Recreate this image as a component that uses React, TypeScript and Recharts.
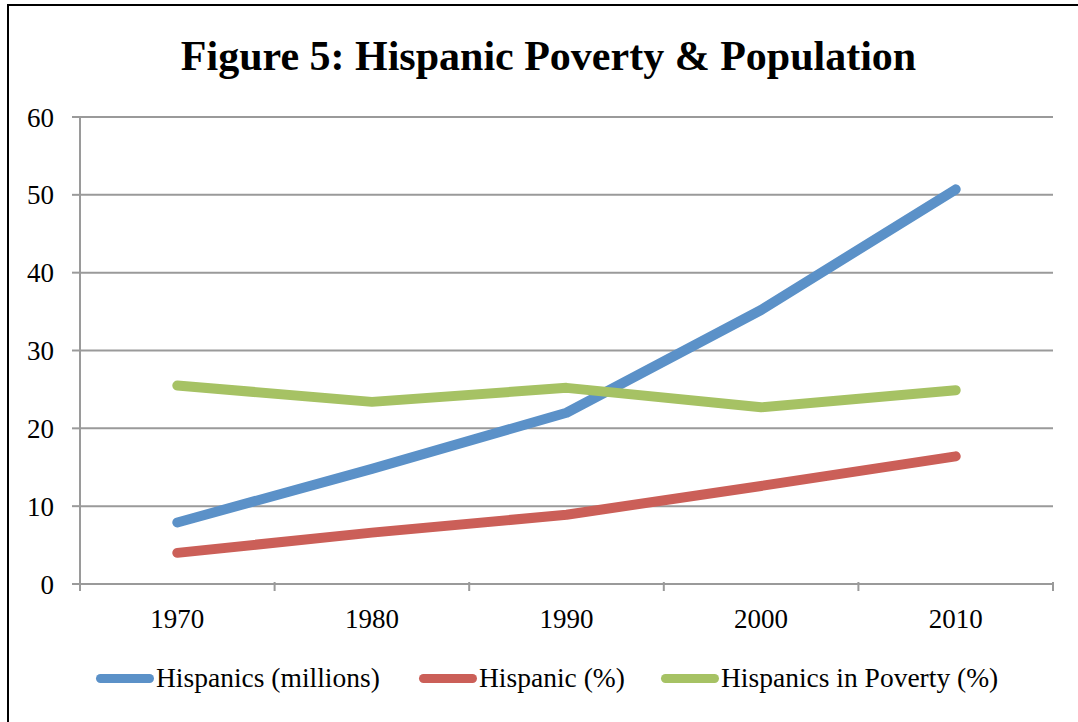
import React from "react";
import { LineChart, Line, XAxis, YAxis, CartesianGrid, Legend } from "recharts";

const years = ["1970", "1980", "1990", "2000", "2010"];
const hispanicsMillions = [7.9, 14.8, 22.0, 35.2, 50.7];
const hispanicPct = [4.0, 6.6, 8.9, 12.6, 16.4];
const povertyPct = [25.5, 23.4, 25.2, 22.7, 24.9];
const yTicks = [0, 10, 20, 30, 40, 50, 60];

const series = [
  { key: "millions", name: "Hispanics (millions)", color: "#5b91c8" },
  { key: "pct", name: "Hispanic (%)", color: "#cb5f58" },
  { key: "poverty", name: "Hispanics in Poverty (%)", color: "#a6c264" },
];

const data = years.map((year, i) => ({
  year,
  millions: hispanicsMillions[i],
  pct: hispanicPct[i],
  poverty: povertyPct[i],
}));

const FONT = "'Liberation Serif', 'Times New Roman', serif";
const GRID = "#9a9a9a";

// category ticks sit between the bands, like the spreadsheet chart
function YearTick(props: any) {
  const { x, y, payload, index, width, visibleTicksCount } = props;
  const band = width / visibleTicksCount;
  const top = y - 10;
  const left = x - band / 2;
  return (
    <g>
      <line x1={left} x2={left} y1={top} y2={top + 9} stroke={GRID} strokeWidth={2} />
      {index === visibleTicksCount - 1 && (
        <line x1={left + band} x2={left + band} y1={top} y2={top + 9} stroke={GRID} strokeWidth={2} />
      )}
      <text x={x} y={top + 46} textAnchor="middle" fontFamily={FONT} fontSize={27} fill="#000">
        {payload.value}
      </text>
    </g>
  );
}

function LegendBox() {
  const spots = [96, 419, 661];
  return (
    <div style={{ position: "relative", width: 1078, height: 40, fontFamily: FONT, fontSize: 27.5 }}>
      {series.map((s, i) => (
        <div key={s.key} style={{ position: "absolute", left: spots[i], top: 0, display: "flex", alignItems: "center" }}>
          <span style={{ display: "inline-block", width: 58, height: 9, borderRadius: 5, background: s.color }} />
          <span style={{ marginLeft: 2, color: "#000" }}>{s.name}</span>
        </div>
      ))}
    </div>
  );
}

export default function App() {
  return (
    <div style={{ position: "absolute", left: 0, top: 0, width: 1078, height: 722, overflow: "hidden", background: "#fff" }}>
      <div style={{ position: "absolute", left: 7, top: 4, width: 1200, height: 900, borderLeft: "2px solid #000", borderTop: "2px solid #000" }} />
      <div
        style={{
          position: "absolute",
          left: 0,
          top: 32,
          width: 1097,
          textAlign: "center",
          fontFamily: FONT,
          fontWeight: "bold",
          fontSize: 42,
          color: "#000",
        }}
      >
        Figure 5: Hispanic Poverty &amp; Population
      </div>
      <div style={{ position: "absolute", left: 0, top: 0 }}>
        <LineChart width={1078} height={722} data={data} margin={{ top: 117, right: 25, bottom: 38, left: 0 }}>
          <CartesianGrid vertical={false} stroke={GRID} strokeWidth={2} strokeDasharray="" />
          <XAxis
            dataKey="year"
            scale="band"
            height={60}
            axisLine={{ stroke: GRID, strokeWidth: 2 }}
            tickLine={false}
            tick={<YearTick />}
            interval={0}
          />
          <YAxis
            domain={[0, 60]}
            ticks={yTicks}
            width={80}
            axisLine={{ stroke: GRID, strokeWidth: 2 }}
            tickLine={{ stroke: GRID, strokeWidth: 2 }}
            tickSize={8}
            tick={{ fontFamily: FONT, fontSize: 27, fill: "#000", dx: -16 }}
          />
          <Legend content={<LegendBox />} wrapperStyle={{ position: "absolute", left: 0, top: 662, width: 1078 }} />
          {series.map((s) => (
            <Line
              key={s.key}
              dataKey={s.key}
              name={s.name}
              stroke={s.color}
              strokeWidth={10}
              strokeLinecap="round"
              strokeLinejoin="round"
              dot={false}
              activeDot={false}
              type="linear"
              isAnimationActive={false}
            />
          ))}
        </LineChart>
      </div>
    </div>
  );
}
